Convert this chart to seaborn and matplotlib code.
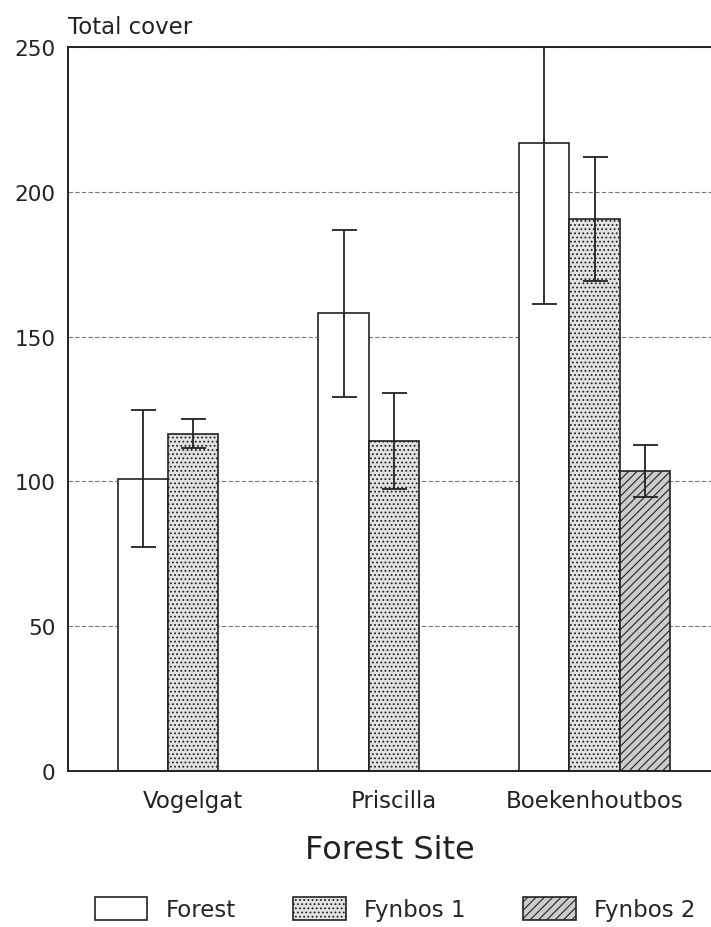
import matplotlib
matplotlib.use("Agg")
import matplotlib.pyplot as plt
import seaborn as sns
import pandas as pd
from matplotlib.patches import Patch

sites = ["Vogelgat", "Priscilla", "Boekenhoutbos"]
types = ["Forest", "Fynbos 1", "Fynbos 2"]
forest_vals = [101, 158, 217]
forest_err = [23.5, 28.7, 55.6]
fynbos1_vals = [116.4, 114, 190.6]
fynbos1_err = [5, 16.5, 21.4]
fynbos2_vals = [None, None, 103.6]
fynbos2_err = [None, None, 9]

rows = []
for vals, errs, t in [(forest_vals, forest_err, "Forest"),
                      (fynbos1_vals, fynbos1_err, "Fynbos 1"),
                      (fynbos2_vals, fynbos2_err, "Fynbos 2")]:
    for s, v, e in zip(sites, vals, errs):
        if v is not None:
            rows.append({"site": s, "type": t, "cover": v, "err": e})
df = pd.DataFrame(rows)

sns.set_style("white")
plt.rcParams['font.family'] = ['DejaVu Sans']
plt.rcParams['hatch.color'] = '#666666'
plt.rcParams['hatch.linewidth'] = 0.8

fig = plt.figure(figsize=(7.11, 9.28), dpi=100)
ax = fig.add_axes([68/711, 156/928, 1 - 68/711, (772-48)/928])

face = {"Forest": "white", "Fynbos 1": "#e2e2e2", "Fynbos 2": "#cccccc"}
hatch = {"Forest": "", "Fynbos 1": "....", "Fynbos 2": "////"}

sns.barplot(data=df, x="site", y="cover", hue="type", order=sites, hue_order=types,
            palette=face, width=0.75, edgecolor="#222222", linewidth=1.2,
            errorbar=None, legend=False, ax=ax)

for cont, t in zip(ax.containers, types):
    sub = df[df.type == t].set_index("site")
    xs, ys, es = [], [], []
    for p in cont:
        p.set_hatch(hatch[t])
        p.set_edgecolor("#222222")
        xc = p.get_x() + p.get_width() / 2
        s = sites[int(round(xc))]
        if s in sub.index:
            xs.append(xc)
            ys.append(sub.loc[s, "cover"])
            es.append(sub.loc[s, "err"])
    ax.errorbar(xs, ys, yerr=es, fmt="none", ecolor="#222222", elinewidth=1.3,
                capsize=9, capthick=1.3, zorder=5)

ax.set_ylim(0, 250)
ax.set_xlim(-0.622, 2.58)
ax.set_yticks([0, 50, 100, 150, 200, 250])
ax.yaxis.grid(True, linestyle=(0, (4, 2)), color="#777777", linewidth=0.8)
ax.set_axisbelow(True)
for sp in ["left", "bottom", "top"]:
    ax.spines[sp].set_visible(True)
    ax.spines[sp].set_color("#222222")
    ax.spines[sp].set_linewidth(1.4)
ax.spines["right"].set_visible(False)
ax.tick_params(axis="y", length=0, labelsize=15.5, pad=9, colors="#222222")
ax.tick_params(axis="x", length=0, labelsize=16.5, pad=13, colors="#222222")
ax.set_ylabel("")
ax.set_xlabel("Forest Site", fontsize=23, labelpad=16, color="#222222")
fig.text(68/711, 1 - 28/928, "Total cover", fontsize=16.5, ha="left", va="center", color="#222222")

handles = [Patch(facecolor=face[t], edgecolor="#222222", hatch=hatch[t], linewidth=1.2) for t in types]
fig.legend(handles, types, loc="center", bbox_to_anchor=(395/711, 1 - 910/928), ncol=3,
           frameon=False, fontsize=16.5, handlelength=2.3, handleheight=1.2,
           columnspacing=2.5, handletextpad=0.8)

fig.savefig("out.png", dpi=100)
